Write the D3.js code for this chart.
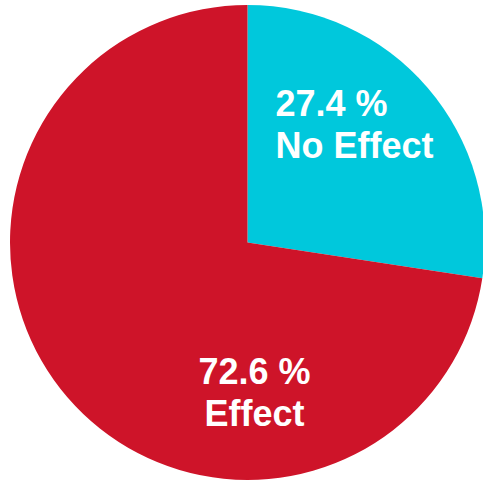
<!DOCTYPE html>
<html>
<head>
<meta charset="utf-8">
<script src="https://cdn.jsdelivr.net/npm/d3@7"></script>
<style>
  body { margin: 0; background: #fff; }
  svg { display: block; }
</style>
</head>
<body>
<svg width="483" height="481"></svg>
<script>
const categories = ["No Effect", "Effect"];
const values = [27.4, 72.6];
const colors = ["#00C8DC", "#CE1429"];

const svg = d3.select("svg");
const cx = 247.5, cy = 242.5, radius = 237.5;

const pie = d3.pie().sort(null).value(d => d.value);
const arc = d3.arc().innerRadius(0).outerRadius(radius);

const slices = pie(categories.map((c, i) => ({ name: c, value: values[i], color: colors[i] })));

const g = svg.append("g").attr("transform", `translate(${cx},${cy})`);

g.selectAll("path")
  .data(slices)
  .enter()
  .append("path")
  .attr("d", arc)
  .attr("fill", d => d.data.color);

// label placement per slice (relative to centre)
const labelPos = [
  { x: 28, y: -127, anchor: "start" },
  { x: 7, y: 141, anchor: "middle" }
];

const labels = g.selectAll("text.lbl")
  .data(slices)
  .enter()
  .append("text")
  .attr("class", "lbl")
  .attr("x", (d, i) => labelPos[i].x)
  .attr("y", (d, i) => labelPos[i].y)
  .attr("text-anchor", (d, i) => labelPos[i].anchor)
  .attr("fill", "#fff")
  .style("font-family", "'Liberation Sans', Arial, sans-serif")
  .style("font-weight", "bold")
  .style("font-size", "36px");

labels.append("tspan")
  .attr("x", (d, i) => labelPos[i].x)
  .text(d => d.data.value.toFixed(1) + " %");

labels.append("tspan")
  .attr("x", (d, i) => labelPos[i].x)
  .attr("dy", 42)
  .text(d => d.data.name);
</script>
</body>
</html>
